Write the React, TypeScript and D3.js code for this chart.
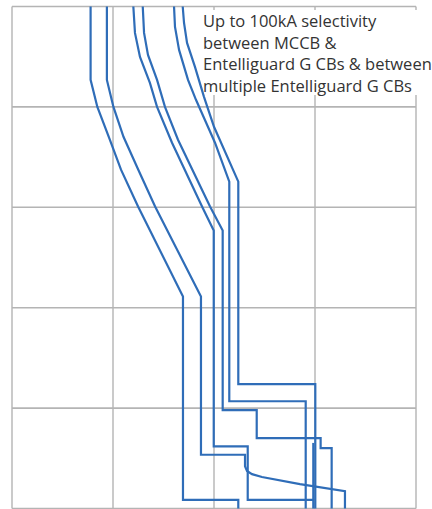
import * as d3 from "d3";
import { useEffect, useRef } from "react";

// time-current curves: [current (A), time (s)], log-log axes without labels
const gridCurrents = [10, 100, 1000, 10000, 100000];
const gridTimes = [10000, 1000, 100, 10, 1, 0.1];

const mccbMin = [
  [60, 10000], [60, 1858], [70, 1000], [93, 471], [120, 237], [177, 102],
  [493, 12.9], [493, 0.122], [1740, 0.122], [1740, 0.1],
];
const mccbMax = [
  [87, 10000], [87, 1858], [101, 1000], [127, 504], [178, 237], [261, 102],
  [743, 12.9], [743, 0.343], [2028, 0.343], [2028, 0.264], [2123, 0.236],
  [2378, 0.22], [2985, 0.206], [7100, 0.175], [19800, 0.149], [19800, 0.1],
];
const egMin = [
  [159, 10000], [165, 5455], [185, 3148], [232, 1736], [273, 1000], [384, 440],
  [761, 102], [994, 58.7], [994, 0.415], [2157, 0.415], [2157, 0.122],
  [9620, 0.122], [9620, 0.1],
];
const egMax = [
  [197, 10000], [203, 5455], [222, 3296], [273, 1858], [327, 1000], [440, 471],
  [913, 102], [1219, 58.7], [1219, 0.953], [2648, 0.953], [2648, 0.502],
  [11370, 0.502], [11370, 0.399], [14620, 0.399], [14620, 0.1],
];
const egInst = [
  [9620, 0.45], [9620, 0.122],
];
const eg2Min = [
  [402, 10000], [411, 6256], [451, 3696], [553, 1858], [663, 1177], [1023, 440],
  [1417, 180], [1417, 1.17], [8090, 1.17], [8090, 0.1],
];
const eg2Max = [
  [490, 10000], [505, 6855], [541, 4335], [648, 2505], [796, 1259], [1000, 634],
  [1740, 180], [1740, 1.73], [10070, 1.73], [10070, 0.1],
];

const curves = [mccbMin, mccbMax, egMin, egMax, egInst, eg2Min, eg2Max];

const noteLines = [
  "Up to 100kA selectivity",
  "between MCCB &",
  "Entelliguard G CBs & between",
  "multiple Entelliguard G CBs",
];

const width = 432;
const height = 509;

export default function App() {
  const svgRef = useRef<SVGSVGElement>(null);

  useEffect(() => {
    if (!svgRef.current) return;
    const svg = d3.select(svgRef.current);
    svg.selectAll("*").remove();

    const x = d3.scaleLog().domain([10, 100000]).range([12, 416]);
    const y = d3.scaleLog().domain([10000, 0.1]).range([6.5, 508.5]);

    const grid = svg.append("g");
    grid
      .selectAll("line.v")
      .data(gridCurrents)
      .join("line")
      .attr("class", "v")
      .attr("x1", (d) => x(d))
      .attr("x2", (d) => x(d))
      .attr("y1", y(10000))
      .attr("y2", y(0.1))
      .attr("stroke", "#bdbdbd")
      .attr("stroke-width", 1.6);
    grid
      .selectAll("line.h")
      .data(gridTimes)
      .join("line")
      .attr("class", "h")
      .attr("x1", x(10))
      .attr("x2", x(100000))
      .attr("y1", (d) => y(d))
      .attr("y2", (d) => y(d))
      .attr("stroke", "#b4b4b4")
      .attr("stroke-width", 1.6);

    // white box behind the note
    svg
      .append("rect")
      .attr("x", 202)
      .attr("y", 10)
      .attr("width", width - 202)
      .attr("height", 85)
      .attr("fill", "#ffffff");

    const line = d3
      .line<number[]>()
      .x((d) => x(d[0]))
      .y((d) => y(d[1]));

    svg
      .append("g")
      .selectAll("path")
      .data(curves)
      .join("path")
      .attr("d", (d) => line(d))
      .attr("fill", "none")
      .attr("stroke", "#2f6db8")
      .attr("stroke-width", 2.2)
      .attr("stroke-linejoin", "miter");

    svg
      .append("g")
      .selectAll("text")
      .data(noteLines)
      .join("text")
      .attr("x", 203)
      .attr("y", (_, i) => 27 + i * 21.5)
      .attr("fill", "#333333")
      .style("font-family", "'Open Sans', sans-serif")
      .style("font-size", "16.5px")
      .text((d) => d);
  }, []);

  return (
    <div style={{ position: "absolute", left: 0, top: 0 }}>
      <svg ref={svgRef} width={width} height={height} style={{ display: "block" }} />
    </div>
  );
}
